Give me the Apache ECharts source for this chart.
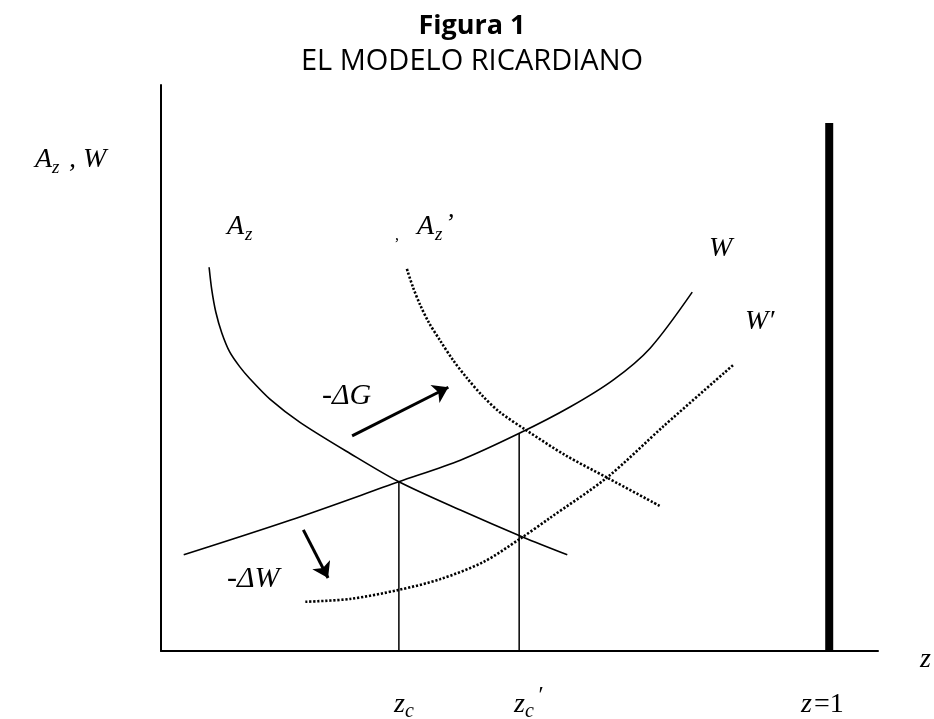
<!DOCTYPE html>
<html>
<head>
<meta charset="utf-8">
<title>El modelo ricardiano</title>
<script src="https://cdn.jsdelivr.net/npm/echarts@6/dist/echarts.min.js"></script>
<style>
  html, body { margin: 0; padding: 0; background: #fff; }
  #chart { width: 934px; height: 719px; }
</style>
</head>
<body>
<div id="chart"></div>
<script>
// curves: [z, value], z = 100 at the z=1 line
var azCurve = [[7.2, 67.8], [7.6, 63.8], [8.2, 59.9], [9.1, 56.2], [10.3, 52.8], [11.8, 50.2], [13.3, 48.1],
  [16.3, 44.5], [20.8, 40.4], [28.3, 34.9], [35.6, 29.9], [44.8, 24.9], [54.2, 20.1], [60.8, 17.0]];
var azPrime = [[36.8, 67.5], [37.7, 64.3], [38.8, 61.1], [40.1, 58.0], [41.8, 54.8], [43.7, 51.4], [45.8, 48.2],
  [48.1, 45.1], [50.7, 42.2], [54.8, 38.9], [60.5, 34.6], [66.8, 30.6], [74.7, 25.6]];
var wCurve = [[3.4, 17.0], [19.3, 23.1], [35.6, 29.9], [44.8, 33.7], [53.7, 38.5], [61.2, 43.1],
  [67.7, 47.9], [73.2, 53.5], [79.5, 63.4]];
var wPrime = [[21.6, 8.7], [28.3, 9.2], [35.6, 10.8], [41.8, 12.7], [48.2, 15.7], [53.7, 19.8],
  [58.2, 23.5], [66.8, 30.7], [75.1, 39.6], [85.6, 50.5]];

// vertical guides
var zcLine = [[35.6, 0], [35.6, 29.9]];
var zcPrimeLine = [[53.6, 0], [53.6, 38.5]];
var zOneLine = [[100, 0], [100, 93.3]];

// shift arrows
var arrowG = [[28.6, 38.0], [43.0, 46.6]];
var arrowW = [[21.3, 21.4], [25.0, 12.9]];

var chart = echarts.init(document.getElementById('chart'));

var serif = '"Liberation Serif", "DejaVu Serif", serif';

function txt(x, y, s, size, extra) {
  var st = {
    text: s,
    font: 'italic ' + size + 'px ' + serif,
    fill: '#000',
    align: 'left',
    verticalAlign: 'middle'
  };
  if (extra) {
    for (var k in extra) st[k] = extra[k];
  }
  return { type: 'text', x: x, y: y, style: st, z: 10 };
}

function line(name, data, opts) {
  return {
    name: name,
    type: 'line',
    data: data,
    showSymbol: false,
    symbol: 'none',
    smooth: opts.smooth || 0,
    silent: true,
    lineStyle: { color: '#000', width: opts.width, type: opts.type || 'solid' }
  };
}

function arrow(name, coords) {
  return {
    name: name,
    type: 'lines',
    coordinateSystem: 'cartesian2d',
    symbol: ['none', 'arrow'],
    symbolSize: 15,
    silent: true,
    lineStyle: { color: '#000', width: 3, opacity: 1, curveness: 0 },
    data: [{ coords: coords }]
  };
}

var option = {
  backgroundColor: '#fff',
  animation: false,
  title: [
    {
      text: 'Figura 1',
      left: 467, top: 8, textAlign: 'center',
      textStyle: { fontFamily: '"Open Sans", "Noto Sans", sans-serif', fontWeight: 'bold', fontSize: 27, color: '#000' }
    },
    {
      text: 'EL MODELO RICARDIANO',
      left: 467, top: 42, textAlign: 'center',
      textStyle: { fontFamily: '"Open Sans", "Noto Sans", sans-serif', fontWeight: 'normal', fontSize: 29, color: '#000' }
    }
  ],
  grid: { left: 161, right: 56, top: 85, bottom: 68 },
  xAxis: {
    type: 'value', min: 0, max: 107.3,
    axisLine: { show: true, onZero: false, lineStyle: { color: '#000', width: 2 } },
    axisTick: { show: false }, axisLabel: { show: false }, splitLine: { show: false }
  },
  yAxis: {
    type: 'value', min: 0, max: 100,
    axisLine: { show: true, onZero: false, lineStyle: { color: '#000', width: 2 } },
    axisTick: { show: false }, axisLabel: { show: false }, splitLine: { show: false }
  },
  series: [
    line('Az', azCurve, { width: 1.6, smooth: 0.3 }),
    line("Az'", azPrime, { width: 2.6, smooth: 0.3, type: [2.2, 1.8] }),
    line('W', wCurve, { width: 1.6, smooth: 0.3 }),
    line("W'", wPrime, { width: 2.6, smooth: 0.3, type: [2.2, 1.8] }),
    line('zc', zcLine, { width: 1.5 }),
    line("zc'", zcPrimeLine, { width: 1.5 }),
    line('z=1', zOneLine, { width: 8 }),
    arrow('-dG', arrowG),
    arrow('-dW', arrowW)
  ],
  graphic: [
    // y axis label
    txt(35, 160, 'A', 28), txt(52, 168, 'z', 19), txt(62, 160, ' , W', 28),
    // A_z
    txt(227, 227, 'A', 28), txt(245, 235, 'z', 19),
    // stray comma + A_z'
    txt(395, 236, ',', 16, { font: '16px ' + serif }),
    txt(417, 227, 'A', 28), txt(435, 235, 'z', 19), txt(445, 224, '\u2019', 26),
    // W, W'
    txt(709, 249, 'W', 28),
    txt(745, 322, 'W\u2032', 28),
    // shifts
    txt(322, 396, '-\u0394G', 30),
    txt(227, 579, '-\u0394W', 30),
    // z labels
    txt(394, 705, 'z', 28), txt(405, 712, 'c', 20),
    txt(514, 705, 'z', 28), txt(525, 712, 'c', 20), txt(537, 696, '\u2032', 24),
    txt(801, 705, 'z', 28), txt(814, 705, '=1', 28, { font: '28px ' + serif }),
    txt(920, 660, 'z', 28)
  ]
};

chart.setOption(option);
</script>
</body>
</html>
